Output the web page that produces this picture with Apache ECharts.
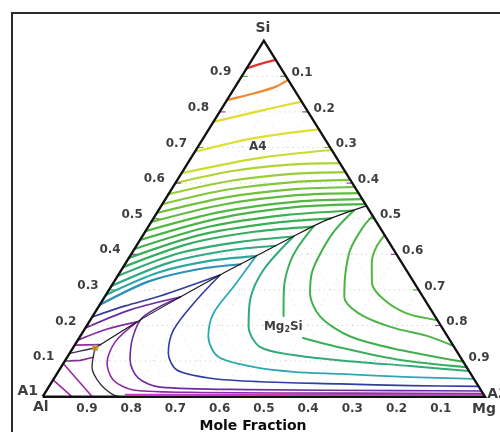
<!DOCTYPE html>
<html>
<head>
<meta charset="utf-8">
<title>Al–Mg–Si liquidus projection</title>
<script src="https://cdn.jsdelivr.net/npm/echarts/dist/echarts.min.js"></script>
<style>
  html, body { margin: 0; padding: 0; background: #ffffff; }
  #chart { width: 500px; height: 432px; }
</style>
</head>
<body>
<div id="chart"></div>
<script>
// Compositions are mole fractions written as [xMg, xSi]; xAl = 1 - xMg - xSi.
const tickValues = [0.1, 0.2, 0.3, 0.4, 0.5, 0.6, 0.7, 0.8, 0.9];

// Liquidus isotherms in the Si (A4) primary field, hottest first.
const siIsotherms = [
  [[0, 0.922], [0.025, 0.935], [0.054, 0.946]],
  [[0, 0.833], [0.054, 0.853], [0.092, 0.871], [0.110, 0.890]],
  [[0, 0.772], [0.090, 0.803], [0.171, 0.829]],
  [[0, 0.688], [0.117, 0.727], [0.249, 0.751]],
  [[0, 0.628], [0.156, 0.671], [0.307, 0.693]],
  [[0, 0.600], [0.112, 0.634], [0.233, 0.652], [0.344, 0.656]],
  [[0, 0.569], [0.120, 0.606], [0.250, 0.626], [0.369, 0.631]],
  [[0, 0.541], [0.127, 0.582], [0.265, 0.603], [0.391, 0.609]],
  [[0, 0.516], [0.134, 0.560], [0.279, 0.583], [0.411, 0.589]],
  [[0, 0.491], [0.139, 0.540], [0.290, 0.566], [0.428, 0.572]],
  [[0, 0.465], [0.143, 0.519], [0.300, 0.548], [0.445, 0.555]],
  [[0, 0.440], [0.147, 0.501], [0.309, 0.533], [0.459, 0.541]],
  [[0, 0.415], [0.139, 0.478], [0.293, 0.510], [0.442, 0.523]],
  [[0, 0.390], [0.127, 0.454], [0.269, 0.487], [0.401, 0.501]],
  [[0, 0.364], [0.117, 0.430], [0.250, 0.464], [0.373, 0.478]],
  [[0, 0.339], [0.106, 0.403], [0.229, 0.435], [0.342, 0.450]],
  [[0, 0.311], [0.097, 0.376], [0.209, 0.410], [0.314, 0.424]],
  [[0, 0.286], [0.087, 0.349], [0.189, 0.382], [0.285, 0.395]],
  [[0, 0.258], [0.078, 0.324], [0.172, 0.358], [0.261, 0.372]],
  [[0, 0.224], [0.059, 0.255], [0.124, 0.283], [0.230, 0.342]],
  [[0, 0.193], [0.076, 0.244], [0.171, 0.280]],
  [[0, 0.159], [0.051, 0.190], [0.108, 0.210]],
  [[0, 0.145], [0.057, 0.146]]
];

// Liquidus isotherms in the Mg2Si primary field, coolest first.
const mg2siIsotherms = [
  [[0.108, 0.210], [0.087, 0.154], [0.098, 0.095], [0.136, 0.047], [0.195, 0.019], [0.350, 0.012], [0.690, 0.010], [0.991, 0.009]],
  [[0.171, 0.280], [0.115, 0.224], [0.120, 0.168], [0.146, 0.103], [0.189, 0.053], [0.252, 0.027], [0.459, 0.020], [0.800, 0.017], [0.984, 0.016]],
  [[0.230, 0.342], [0.210, 0.262], [0.202, 0.187], [0.223, 0.122], [0.266, 0.075], [0.353, 0.052], [0.471, 0.042], [0.655, 0.036], [0.815, 0.031], [0.971, 0.029]],
  [[0.285, 0.395], [0.277, 0.309], [0.269, 0.234], [0.290, 0.169], [0.341, 0.112], [0.434, 0.084], [0.532, 0.070], [0.641, 0.064], [0.803, 0.055], [0.950, 0.050]],
  [[0.342, 0.450], [0.321, 0.356], [0.333, 0.272], [0.367, 0.197], [0.421, 0.140], [0.508, 0.117], [0.622, 0.102], [0.788, 0.086], [0.928, 0.072]],
  [[0.373, 0.478], [0.367, 0.421], [0.372, 0.370], [0.393, 0.305], [0.431, 0.227]],
  [[0.506, 0.165], [0.604, 0.138], [0.757, 0.103], [0.917, 0.083]],
  [[0.442, 0.523], [0.427, 0.468], [0.426, 0.412], [0.434, 0.350], [0.459, 0.291], [0.515, 0.225], [0.611, 0.169], [0.743, 0.131], [0.902, 0.098]],
  [[0.492, 0.508], [0.486, 0.477], [0.489, 0.412], [0.513, 0.342], [0.542, 0.280], [0.596, 0.235], [0.688, 0.196], [0.792, 0.168], [0.858, 0.142]],
  [[0.546, 0.454], [0.544, 0.421], [0.555, 0.378], [0.585, 0.319], [0.636, 0.272], [0.706, 0.234], [0.785, 0.215]],
  [[0.184, 0.006], [0.580, 0.006], [0.994, 0.006]]
];

// Liquidus isotherms in the Al (A1) primary field.
const alIsotherms = [
  [[0, 0.100], [0.034, 0.102], [0.059, 0.111]],
  [[0, 0.093], [0.112, 0]],
  [[0, 0.047], [0.066, 0]]
];

// Univariant valleys and the ternary eutectic.
const valleySiMg2Si = [[0.464, 0.536], [0.393, 0.496], [0.337, 0.446], [0.285, 0.395], [0.230, 0.342], [0.171, 0.280], [0.112, 0.215], [0.050, 0.137]];
const valleyAlSi = [[0, 0.122], [0.020, 0.128], [0.050, 0.137]];
const valleyAlMg2Si = [[0.050, 0.137], [0.070, 0.083], [0.112, 0.036], [0.157, 0.005], [0.175, 0]];
const eutectic = [0.050, 0.137];

// Line colours (temperature colour scale), kept apart from the data.
const siColors = ['#e2342c', '#f0892c', '#e4dc2a', '#dde02c', '#c8dc34', '#b0d436', '#9ace38', '#84c83a',
  '#70c13c', '#60bc3e', '#52b842', '#48b446', '#40b04c', '#3cae56', '#38ad62', '#34ab70', '#30aa84',
  '#2ca8a0', '#2c90b8', '#343c9e', '#6a2c9e', '#852a9e', '#952aa0'];
const mg2siColors = ['#8a2aa2', '#6c2c9e', '#303ca0', '#2ca8b0', '#30aa78', '#3aae5a', '#3aae5a',
  '#40b04c', '#4ab446', '#52b83e', '#c23cc0'];
const mg2siWidths = [1.6, 1.6, 1.6, 1.8, 2, 2, 2, 2, 2, 2, 1.4];
const alColors = ['#8a2aa0', '#9a2ca6', '#9a2ca6'];

const FONT = '"DejaVu Sans", "Liberation Sans", sans-serif';
const TEXT = '#0d0d0d';

// Ternary -> cartesian: Al at (0,0), Mg at (1,0), Si at the apex (0.5,1).
const tern = p => [p[0] + p[1] / 2, p[1]];

function curve(points, color, width, z, extra) {
  return Object.assign({
    type: 'line',
    data: points.map(tern),
    symbol: 'none',
    smooth: 0.3,
    lineStyle: { color: color, width: width, cap: 'round', join: 'round' },
    silent: true,
    clip: false,
    animation: false,
    z: z
  }, extra || {});
}

function labelLayer(items, labelOpts) {
  return {
    type: 'scatter',
    symbolSize: 1,
    itemStyle: { color: 'rgba(0,0,0,0)' },
    silent: true,
    clip: false,
    animation: false,
    z: 20,
    data: items.map(it => ({ value: tern(it.at), label: Object.assign({ formatter: it.text }, it.label || {}) })),
    label: Object.assign({ show: true, fontFamily: FONT, fontWeight: 'bold', color: TEXT, fontSize: 12 }, labelOpts)
  };
}

const series = [];

// Dotted composition grid.
tickValues.forEach(t => {
  series.push(curve([[0, t], [1 - t, t]], 'rgba(130,175,120,0.55)', 1, 1, { smooth: false, lineStyle: { color: 'rgba(130,175,120,0.55)', width: 1, type: [1, 4] } }));
  series.push(curve([[t, 0], [t, 1 - t]], 'rgba(225,130,205,0.45)', 1, 1, { smooth: false, lineStyle: { color: 'rgba(225,130,205,0.45)', width: 1, type: [1, 5] } }));
  series.push(curve([[1 - t, 0], [0, 1 - t]], 'rgba(215,140,210,0.40)', 1, 1, { smooth: false, lineStyle: { color: 'rgba(215,140,210,0.40)', width: 1, type: [1, 5] } }));
});

// Small tick marks on the two sloping edges.
tickValues.forEach((t, i) => {
  const c = i % 2 === 0 ? '#5aa84a' : '#9a4aa8';
  series.push(curve([[0, t], [0.012, t]], c, 1.2, 6, { smooth: false }));
  series.push(curve([[t, 1 - t], [t - 0.012, 1 - t]], c, 1.2, 6, { smooth: false }));
});

siIsotherms.forEach((pts, i) => series.push(curve(pts, siColors[i], i < 19 ? 2.2 : 1.7, 3)));
mg2siIsotherms.forEach((pts, i) => series.push(curve(pts, mg2siColors[i], mg2siWidths[i], 3)));
alIsotherms.forEach((pts, i) => series.push(curve(pts, alColors[i], 1.6, 3, { smooth: false })));

series.push(curve(valleySiMg2Si, '#151515', 1.1, 4));
series.push(curve(valleyAlSi, '#3a2a4a', 1.3, 4));
series.push(curve(valleyAlMg2Si, '#2a2a2a', 1.3, 4));

series.push({
  type: 'scatter', data: [tern(eutectic)], symbolSize: 6, silent: true, clip: false, animation: false, z: 6,
  itemStyle: { color: '#f07a20', borderColor: '#6cc050', borderWidth: 1 }
});

// Triangle outline.
series.push(curve([[0, 0], [1, 0], [0, 1], [0, 0]], '#111111', 2.4, 8, { smooth: false, lineStyle: { color: '#111111', width: 2.4, join: 'miter' } }));

// Edge tick labels.
series.push(labelLayer(tickValues.map(t => ({ at: [0, t], text: t.toFixed(1) })), { position: 'left', distance: 10, offset: [0, -4] }));
series.push(labelLayer(tickValues.map(t => ({ at: [t, 1 - t], text: t.toFixed(1) })), { position: 'right', distance: 5, offset: [0, -3.5] }));
series.push(labelLayer(tickValues.map(t => ({ at: [1 - t, 0], text: t.toFixed(1) })), { position: 'bottom', distance: 6 }));

// Corner, phase and region labels.
series.push(labelLayer([
  { at: [0, 1], text: 'Si', label: { offset: [-1, -12.5] } },
  { at: [0, 0], text: 'Al', label: { offset: [-2, 11] } },
  { at: [0, 0], text: 'A1', label: { offset: [-15, -5] } },
  { at: [1, 0], text: 'Mg', label: { offset: [-1, 12.5] } },
  { at: [1, 0], text: 'A3', label: { offset: [12.5, -2.5] } }
], { position: 'inside', fontSize: 14 }));

series.push(labelLayer([
  { at: [0.136, 0.701], text: 'A4' },
  { at: [0.446, 0.196], text: '{a|Mg}{b|2}{a|Si}' }
], {
  position: 'inside', fontSize: 12,
  rich: {
    a: { fontFamily: FONT, fontWeight: 'bold', fontSize: 12, color: TEXT },
    b: { fontFamily: FONT, fontWeight: 'bold', fontSize: 8, color: TEXT, verticalAlign: 'bottom', padding: [5, 0, 0, 0] }
  }
}));

const chart = echarts.init(document.getElementById('chart'), null, { renderer: 'canvas', width: 500, height: 432 });
chart.setOption({
  animation: false,
  backgroundColor: '#ffffff',
  grid: { left: 42.7, right: 15, top: 40.7, bottom: 35.3, containLabel: false },
  xAxis: { type: 'value', min: 0, max: 1, show: false },
  yAxis: { type: 'value', min: 0, max: 1, show: false },
  graphic: [
    {
      type: 'rect', silent: true, z: 0,
      shape: { x: 12, y: 13, width: 520, height: 460 },
      style: { fill: 'none', stroke: '#2a2a2a', lineWidth: 2 }
    },
    {
      type: 'text', silent: true, z: 30,
      style: { text: 'Mole Fraction', x: 253, y: 426, align: 'center', verticalAlign: 'middle',
        fontFamily: FONT, fontWeight: 'bold', fontSize: 14, fill: TEXT }
    }
  ],
  series: series
});
</script>
</body>
</html>
